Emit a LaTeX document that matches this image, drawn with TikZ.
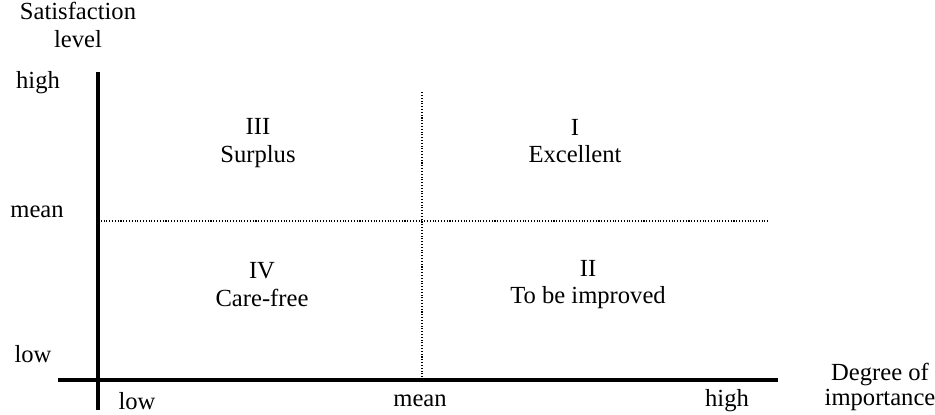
\documentclass[tikz,border=0pt]{standalone}
\usepackage{fontspec}
\setmainfont{Liberation Serif}

\begin{document}
\begin{tikzpicture}[
    every node/.style={font=\fontsize{14}{15.5}\selectfont, align=center},
    axisline/.style={line width=1.8pt},
    meanline/.style={line width=0.6pt, densely dotted}]
    \useasboundingbox (0, 0) rectangle (18.7, 8.28);

    % axes
    \coordinate (ytop) at (1.96, 6.84);
    \coordinate (ybot) at (1.96, 0.08);
    \coordinate (xleft) at (1.16, 0.68);
    \coordinate (xright) at (15.56, 0.68);
    \draw[axisline] (ybot) -- (ytop);
    \draw[axisline] (xleft) -- (xright);

    % mean lines
    \coordinate (vtop) at (8.44, 6.44);
    \coordinate (vbot) at (8.44, 0.68);
    \coordinate (hleft) at (1.96, 3.86);
    \coordinate (hright) at (15.36, 3.86);
    \draw[meanline] (vbot) -- (vtop);
    \draw[meanline] (hleft) -- (hright);

    % axis titles
    \node (ytitle) at (1.56, 7.78) {Satisfaction\\level};
    \node[font=\fontsize{14}{14}\selectfont] (xtitle) at (17.6, 0.54) {Degree of\\importance};

    % levels
    \node (yhigh) at (0.76, 6.62) {high};
    \node (ymean) at (0.74, 4.04) {mean};
    \node (ylow)  at (0.66, 1.20) {low};
    \node (xlow)  at (2.74, 0.26) {low};
    \node (xmean) at (8.40, 0.26) {mean};
    \node (xhigh) at (14.54, 0.26) {high};

    % quadrants
    \node (q3) at (5.16, 5.42) {III\\Surplus};
    \node (q1) at (11.50, 5.46) {I\\Excellent};
    \node (q4) at (5.24, 2.59) {IV\\Care-free};
    \node (q2) at (11.76, 2.59) {II\\To be improved};
\end{tikzpicture}
\end{document}
